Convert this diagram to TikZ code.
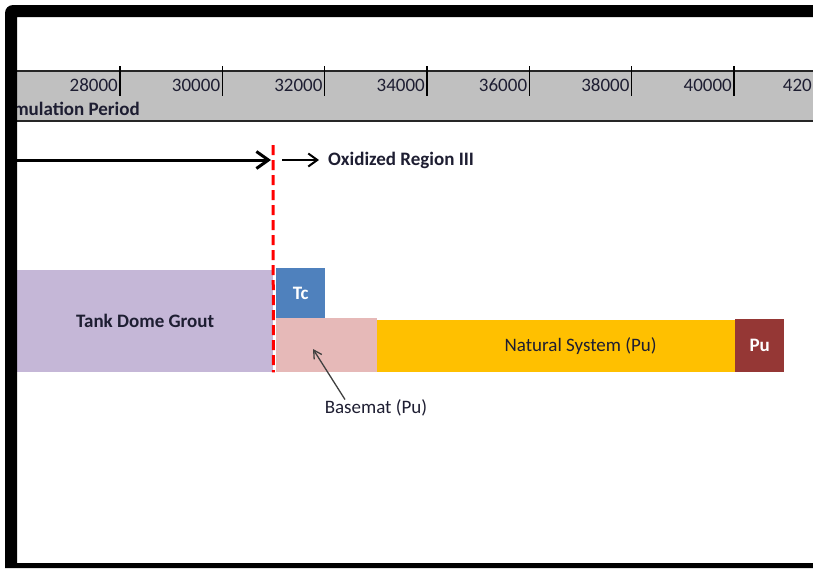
\documentclass[tikz,border=0pt]{standalone}
\usepackage{fontspec}
\setmainfont{Carlito}
\usetikzlibrary{arrows.meta,positioning}
\definecolor{groutpurple}{HTML}{C5B7D7}
\definecolor{tcblue}{HTML}{4F81BD}
\definecolor{basepink}{HTML}{E6B9B8}
\definecolor{natgold}{HTML}{FFC000}
\definecolor{pured}{HTML}{953735}
\definecolor{bandgray}{HTML}{C0C0C0}
\definecolor{inkdark}{HTML}{1E1E32}

\begin{document}
\begin{tikzpicture}[x=1pt,y=-1pt,
    bar/.style={anchor=north west,inner sep=0pt,text=inkdark,
      font=\fontsize{19}{22}\selectfont\bfseries},
    lbl/.style={inner sep=0pt,text=inkdark,font=\fontsize{19}{22}\selectfont},
    boldlbl/.style={lbl,font=\fontsize{19}{22}\selectfont\bfseries}]
    \useasboundingbox[fill=white] (0,0) rectangle (813,568);
    % time axis band
    \fill[bandgray] (17,70) rectangle (813,122);
    \draw[line width=2pt,black!85] (17,71) -- (813,71);
    \draw[line width=2pt,black!85] (17,121) -- (813,121);
    \foreach \i in {0,...,6} {
      \pgfmathsetmacro{\tx}{120+102.33*\i}
      \edef\yr{\the\numexpr28000+2000*\i\relax}
      \draw[line width=1.6pt] (\tx,66) -- (\tx,96);
      \node[lbl,anchor=base east] (tick\i) at (\tx-2,91) {\yr};
    }
    \node[lbl,anchor=base east] (tick7) at (812,91) {420};
    \begin{scope}
      \clip (17,70) rectangle (813,122);
      \node[boldlbl,anchor=base east] (period) at (140,115) {Simulation Period};
    \end{scope}
    % barriers
    \node[bar,fill=groutpurple,minimum width=256pt,minimum height=102pt] (grout) at (17,270) {Tank Dome Grout};
    \node[bar,fill=natgold,minimum width=407pt,minimum height=52pt,font=\fontsize{19}{22}\selectfont] (natural) at (377,320) {Natural System (Pu)};
    \node[bar,fill=basepink,minimum width=101pt,minimum height=54pt] (basemat) at (276,318) {};
    \node[bar,fill=tcblue,minimum width=49pt,minimum height=50pt,text=white] (tc) at (276,268) {Tc};
    \node[bar,fill=pured,minimum width=49pt,minimum height=53pt,text=white] (pu) at (735,319) {Pu};
    % oxidation front
    \coordinate (cuttop) at (273,145);
    \draw[red,line width=3pt,dash pattern=on 10pt off 5pt] (cuttop) -- (grout.south east);
    \coordinate (tstart) at (17,160);
    \coordinate (tsplit) at (271,160);
    \draw[-{Straight Barb[length=12pt,width=17pt]},line width=3pt] (tstart) -- (tsplit);
    \node[boldlbl,anchor=west] (oxlbl) at (328,160) {Oxidized Region III};
    \coordinate (ostart) at (282,160);
    \draw[-{Straight Barb[length=9pt,width=13pt]},line width=2pt] (ostart) -- ([xshift=-9pt]oxlbl.west);
    % basemat callout
    \node[lbl] (baselbl) at (376,408) {Basemat (Pu)};
    \coordinate (bsmtip) at (313,349);
    \draw[-{Straight Barb[length=8pt,width=9pt]},line width=1.3pt,black!75] ([xshift=-31pt]baselbl.north) -- (bsmtip);
    % frame
    \fill[black] (5,568) -- (5,13) arc[start angle=180,end angle=90,radius=8pt] -- (813,5)
      -- (813,17) -- (17,17) -- (17,563) -- (813,563) -- (813,568) -- cycle;
\end{tikzpicture}
\end{document}
